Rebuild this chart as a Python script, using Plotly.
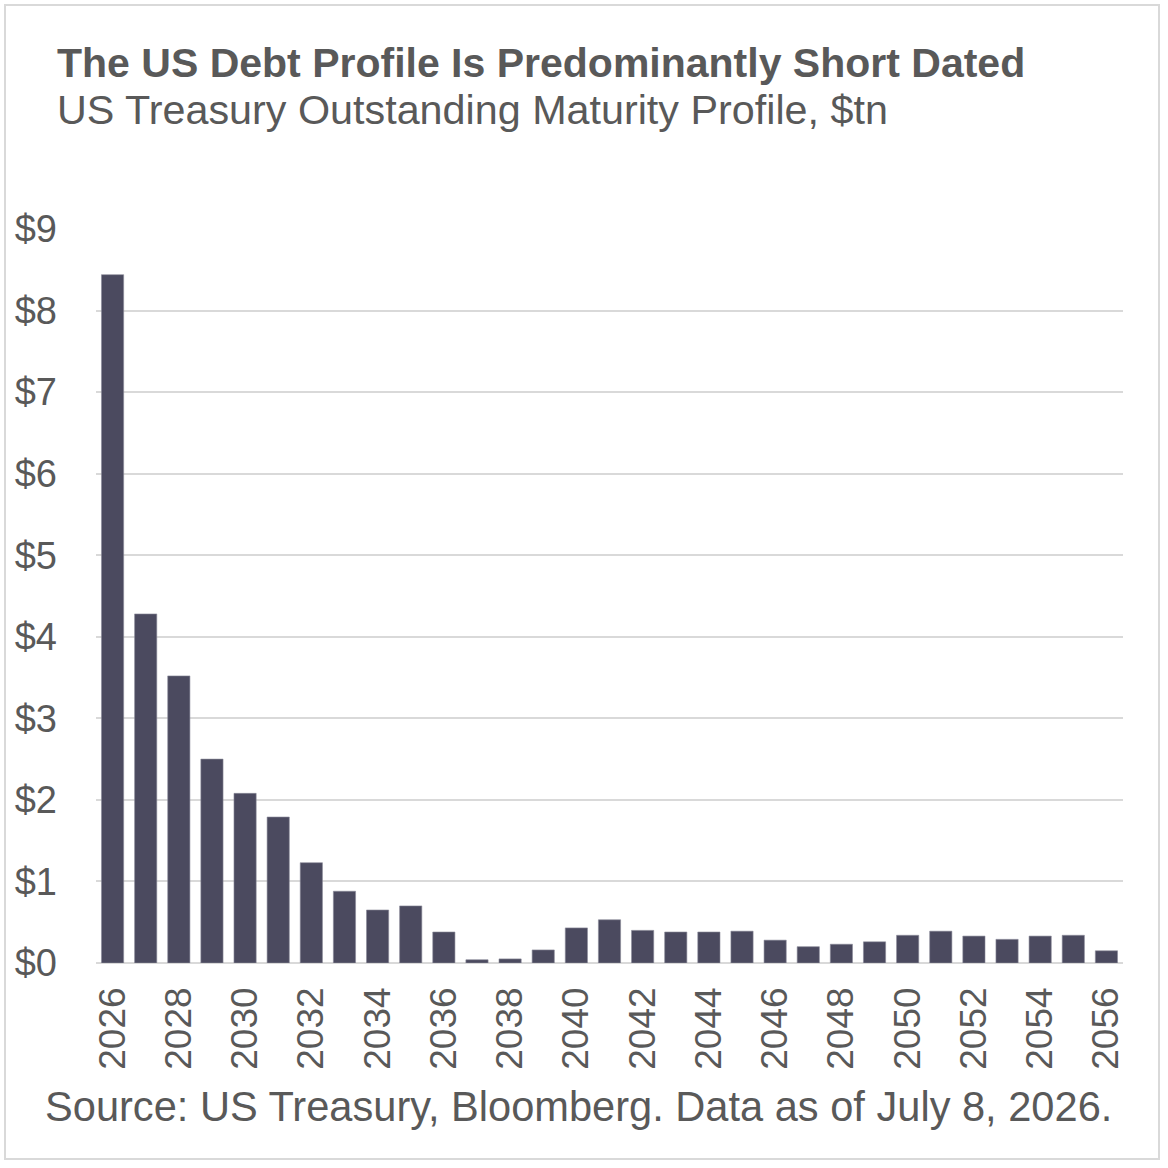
import plotly.graph_objects as go

# Maturity year and outstanding amount ($tn)
years = list(range(2026, 2057))
outstanding_tn = [
    8.44, 4.28, 3.52, 2.50, 2.08, 1.79, 1.23, 0.88, 0.65, 0.70,
    0.38, 0.04, 0.05, 0.16, 0.43, 0.53, 0.40, 0.38, 0.38, 0.39,
    0.28, 0.20, 0.23, 0.26, 0.34, 0.39, 0.33, 0.29, 0.33, 0.34,
    0.15,
]
y_ticks = list(range(0, 10))
y_tick_labels = [f"${v}" for v in y_ticks]

title_text = "The US Debt Profile Is Predominantly Short Dated"
subtitle_text = "US Treasury Outstanding Maturity Profile, $tn"
source_text = "Source: US Treasury, Bloomberg. Data as of July 8, 2026."

text_color = "#595959"
bar_color = "#4b4a5f"
grid_color = "#d9d9d9"
font_family = "Liberation Sans, Arial, sans-serif"

# plot area in pixels (left/right, top/bottom)
px_l, px_r, px_t, px_b = 96, 1123, 229, 963
pw, ph = px_r - px_l, px_b - px_t


def px_x(v):
    return (v - px_l) / pw


def px_y(v):
    return (px_b - v) / ph


fig = go.Figure()
fig.add_trace(go.Bar(
    x=years,
    y=outstanding_tn,
    marker=dict(color=bar_color, line=dict(color="#8a8a98", width=0.6)),
))

fig.update_layout(
    width=1168,
    height=1168,
    margin=dict(l=px_l, r=1168 - px_r, t=px_t, b=1168 - px_b),
    paper_bgcolor="white",
    plot_bgcolor="white",
    bargap=0.33,
    showlegend=False,
    font=dict(family=font_family, color=text_color, size=38),
    xaxis=dict(
        tickmode="array",
        tickvals=years[::2],
        ticktext=[str(y) for y in years[::2]],
        tickangle=-90,
        range=[years[0] - 0.5, years[-1] + 0.5],
        showgrid=False,
        showline=False,
        ticks="",
        ticklabelstandoff=16,
        tickfont=dict(size=37, color=text_color),
    ),
    yaxis=dict(
        range=[0, 9],
        tickmode="array",
        tickvals=y_ticks,
        ticktext=y_tick_labels,
        showgrid=True,
        gridcolor=grid_color,
        gridwidth=2,
        zeroline=True,
        zerolinecolor=grid_color,
        zerolinewidth=2,
        showline=False,
        ticks="",
        ticklabelstandoff=38,
        tickfont=dict(size=38, color=text_color),
    ),
    annotations=[
        dict(text=f"<b>{title_text}</b>", xref="paper", yref="paper",
             x=px_x(55), y=px_y(63), xanchor="left", yanchor="middle",
             showarrow=False, font=dict(size=41, color=text_color)),
        dict(text=subtitle_text, xref="paper", yref="paper",
             x=px_x(55), y=px_y(110), xanchor="left", yanchor="middle",
             showarrow=False, font=dict(size=41.3, color=text_color)),
        dict(text=source_text, xref="paper", yref="paper",
             x=px_x(578.5), y=px_y(1106), xanchor="center", yanchor="middle",
             showarrow=False, font=dict(size=41.6, color=text_color)),
    ],
    shapes=[
        dict(type="rect", xref="paper", yref="paper",
             x0=px_x(5), x1=px_x(1159), y0=px_y(1159), y1=px_y(5),
             line=dict(color=grid_color, width=2), layer="below"),
    ],
)

fig.write_html("out.html", config={"displayModeBar": False},
               post_script="document.body.style.margin='0';")
